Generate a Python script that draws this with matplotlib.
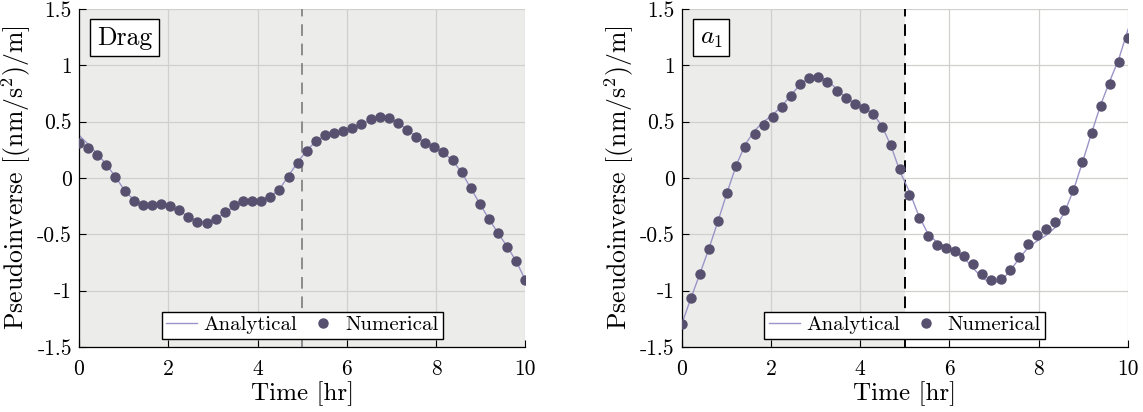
import numpy as np
import matplotlib
matplotlib.use("Agg")
import matplotlib.pyplot as plt
from matplotlib.ticker import FixedLocator, FixedFormatter

plt.rcParams['font.family'] = ['cmr10', 'DejaVu Serif']
plt.rcParams['mathtext.fontset'] = 'cm'
plt.rcParams['axes.unicode_minus'] = False
plt.rcParams['axes.formatter.use_mathtext'] = True

# ---------------- data ----------------
time_hr = np.linspace(0, 10, 50)

drag_numerical = [0.315, 0.265, 0.203, 0.118, 0.005, -0.118, -0.200, -0.241, -0.241, -0.235,
                  -0.247, -0.288, -0.347, -0.394, -0.400, -0.368, -0.303, -0.241, -0.206, -0.200,
                  -0.200, -0.171, -0.106, 0.010, 0.132, 0.244, 0.329, 0.379, 0.400, 0.415,
                  0.444, 0.479, 0.521, 0.538, 0.529, 0.485, 0.426, 0.362, 0.315, 0.276,
                  0.229, 0.159, 0.050, -0.088, -0.229, -0.368, -0.491, -0.609, -0.738, -0.906]
drag_analytical = [0.380, 0.300, 0.215, 0.120, 0.010, -0.110, -0.195, -0.235, -0.245, -0.245,
                   -0.255, -0.290, -0.345, -0.385, -0.395, -0.365, -0.310, -0.255, -0.215, -0.195,
                   -0.190, -0.165, -0.100, 0.020, 0.140, 0.245, 0.325, 0.375, 0.400, 0.420,
                   0.445, 0.480, 0.515, 0.535, 0.530, 0.490, 0.430, 0.365, 0.315, 0.275,
                   0.225, 0.155, 0.050, -0.090, -0.230, -0.365, -0.490, -0.610, -0.740, -0.910]

a1_numerical = [-1.297, -1.065, -0.853, -0.629, -0.382, -0.132, 0.106, 0.276, 0.394, 0.471,
                0.538, 0.629, 0.732, 0.832, 0.891, 0.897, 0.850, 0.774, 0.706, 0.659,
                0.618, 0.565, 0.456, 0.294, 0.082, -0.147, -0.359, -0.515, -0.597, -0.626,
                -0.647, -0.691, -0.768, -0.856, -0.906, -0.894, -0.815, -0.700, -0.588, -0.506,
                -0.453, -0.394, -0.285, -0.106, 0.141, 0.397, 0.638, 0.838, 1.026, 1.244]
a1_analytical = [-1.300, -1.070, -0.850, -0.625, -0.380, -0.125, 0.115, 0.300, 0.420, 0.500,
                 0.560, 0.640, 0.735, 0.830, 0.890, 0.905, 0.870, 0.790, 0.715, 0.665,
                 0.625, 0.570, 0.460, 0.280, 0.050, -0.120, -0.330, -0.490, -0.570, -0.610,
                 -0.650, -0.710, -0.800, -0.890, -0.930, -0.920, -0.830, -0.720, -0.620, -0.560,
                 -0.510, -0.440, -0.310, -0.110, 0.140, 0.400, 0.650, 0.860, 1.060, 1.320]

panel_labels = ['Drag', r'$a_1$']
x_ticks = [0, 2, 4, 6, 8, 10]
x_ticklabels = ['0', '2', '4', '6', '8', '10']
y_ticks = [-1.5, -1, -0.5, 0, 0.5, 1, 1.5]
y_ticklabels = ['-1.5', '-1', '-0.5', '0', '0.5', '1', '1.5']
split_time = 5

# ---------------- style ----------------
shade = '#ECEDEA'
marker_color = '#57516F'
line_color = '#9A95C8'

fig = plt.figure(figsize=(11.43, 4.12), dpi=100)
axes = [fig.add_axes([0.0691, 0.158, 0.3906, 0.820]),
        fig.add_axes([0.5964, 0.158, 0.3905, 0.820])]

datasets = [(drag_analytical, drag_numerical), (a1_analytical, a1_numerical)]

for k, ax in enumerate(axes):
    ana, num = datasets[k]
    if k == 0:
        ax.set_facecolor(shade)
        vcol = '#8C8C8C'
    else:
        ax.set_facecolor('white')
        ax.axvspan(0, split_time, color=shade, zorder=0, lw=0)
        vcol = 'black'
    ax.set_xlim(0, 10)
    ax.set_ylim(-1.5, 1.5)
    ax.grid(True, color='#D0D1CE', lw=0.9, zorder=0.5)
    ax.set_axisbelow(True)
    ax.axvline(split_time, color=vcol, ls=(0, (6, 4)), lw=1.4, zorder=1)
    l1, = ax.plot(time_hr, ana, color=line_color, lw=1.0, zorder=2, label='Analytical')
    l2, = ax.plot(time_hr, num, ls='none', marker='o', ms=6.5, color=marker_color,
                  mec=marker_color, zorder=3, label='Numerical')
    ax.xaxis.set_major_locator(FixedLocator(x_ticks))
    ax.xaxis.set_major_formatter(FixedFormatter(x_ticklabels))
    ax.yaxis.set_major_locator(FixedLocator(y_ticks))
    ax.yaxis.set_major_formatter(FixedFormatter(y_ticklabels))
    ax.tick_params(direction='in', length=5, width=0.8, labelsize=15.5,
                   top=False, right=False)
    ax.tick_params(axis='x', pad=9)
    ax.tick_params(axis='y', pad=5)
    for s in ['top', 'right']:
        ax.spines[s].set_visible(False)
    for s in ['left', 'bottom']:
        ax.spines[s].set_linewidth(0.9)
        ax.spines[s].set_color('black')
    ax.set_xlabel('Time [hr]', fontsize=18, labelpad=2)
    ax.set_ylabel(r'Pseudoinverse $[(\mathrm{nm/s^2})/\mathrm{m}]$', fontsize=18.5, labelpad=3)
    ax.text(0.040, 0.950, panel_labels[k], transform=ax.transAxes, fontsize=18.5,
            ha='left', va='top',
            bbox=dict(boxstyle='square,pad=0.26', fc='white', ec='black', lw=1.0))
    leg = ax.legend(handles=[l1, l2], loc='lower center', ncol=2, fontsize=15,
                    frameon=True, fancybox=False, edgecolor='black', framealpha=1,
                    borderaxespad=0.4, handlelength=1.5, handletextpad=0.3,
                    columnspacing=0.5, borderpad=0.2)
    leg.get_frame().set_linewidth(1.0)

fig.savefig('out.png', dpi=100)
